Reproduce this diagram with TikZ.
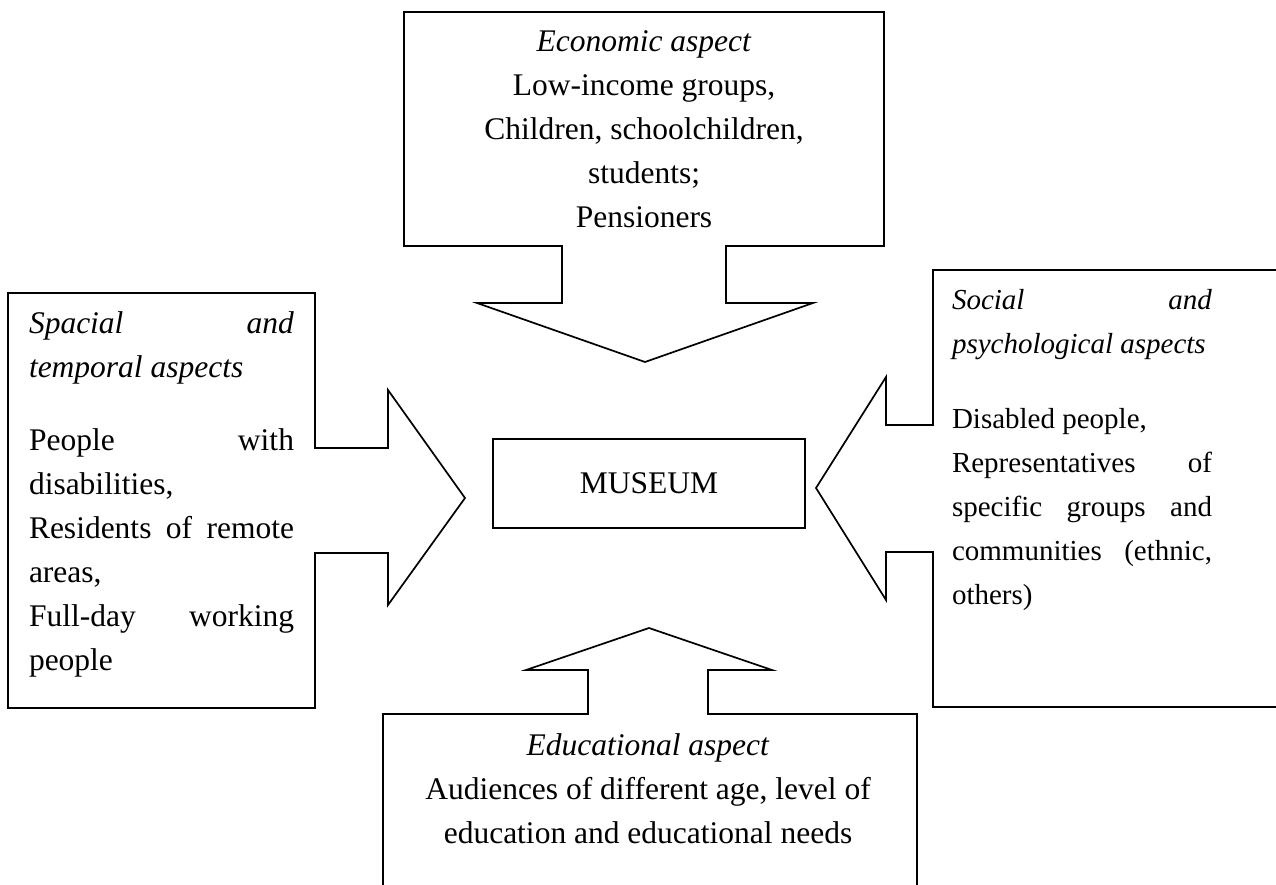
\documentclass[tikz,border=0pt]{standalone}
\usepackage{fontspec}
\setmainfont{Liberation Serif}
\begin{document}
\begin{tikzpicture}[x=1pt,y=-1pt,
  callout/.style={draw=black,line width=1.7pt,line join=miter,fill=white},
  bodytext/.style={inner sep=0pt,outer sep=0pt,font=\fontsize{31.5}{44}\selectfont},
  smalltext/.style={inner sep=0pt,outer sep=0pt,font=\fontsize{29}{44}\selectfont},
  centrebox/.style={draw=black,line width=1.7pt,inner sep=0pt,
    minimum width=312pt,minimum height=89pt,font=\fontsize{31.5}{44}\selectfont}]
\useasboundingbox (0,0) rectangle (1276,885);
\clip (0,0) rectangle (1276,885);

% economic aspect: box with a downward arrow
\draw[callout] (404,12) -- (884,12) -- (884,246) -- (726,246) -- (726,303)
  -- (813,303) -- (645,362) -- (477,303) -- (562,303) -- (562,246)
  -- (404,246) -- cycle;

% spatial and temporal aspects: box with an arrow to the right
\draw[callout] (8,293) -- (315,293) -- (315,448) -- (388,448) -- (388,390)
  -- (465,498) -- (388,605) -- (388,553) -- (315,553) -- (315,708)
  -- (8,708) -- cycle;

% social and psychological aspects: box with an arrow to the left
\draw[callout] (1290,270) -- (933,270) -- (933,425) -- (886,425) -- (886,377)
  -- (816,488) -- (886,600) -- (886,552) -- (933,552) -- (933,707)
  -- (1290,707) -- cycle;

% educational aspect: box with an upward arrow
\draw[callout] (383,900) -- (383,714) -- (588,714) -- (588,670) -- (526,670)
  -- (649,628) -- (772,670) -- (708,670) -- (708,714) -- (917,714)
  -- (917,900) -- cycle;

% centre
\node[centrebox] (museum) at (649,483.5) {MUSEUM};

% texts
\node[bodytext,anchor=base] (eco) at (644,52) {\begin{minipage}[t]{470pt}\centering
  \textit{Economic aspect}\\
  Low-income groups,\\
  Children, schoolchildren,\\
  students;\\
  Pensioners\end{minipage}};

\node[bodytext,anchor=base west] (spt) at (29,333) {\begin{minipage}[t]{265pt}
  \textit{Spacial\hfill and}\\
  \textit{temporal aspects}\\[29pt]
  People\hfill with\\
  disabilities,\\
  Residents\hfill of\hfill remote\\
  areas,\\
  Full-day\hfill working\\
  people\end{minipage}};

\node[smalltext,anchor=base west] (soc) at (952,309) {\begin{minipage}[t]{260pt}
  \textit{Social\hfill and}\\
  \textit{psychological aspects}\\[31pt]
  Disabled people,\\
  Representatives\hfill of\\
  specific\hfill groups\hfill and\\
  communities\hfill (ethnic,\\
  others)\end{minipage}};

\node[bodytext,anchor=base] (edu) at (648,755) {\begin{minipage}[t]{520pt}\centering
  \textit{Educational aspect}\\
  Audiences of different age, level of\\
  education and educational needs\end{minipage}};
\end{tikzpicture}
\end{document}
